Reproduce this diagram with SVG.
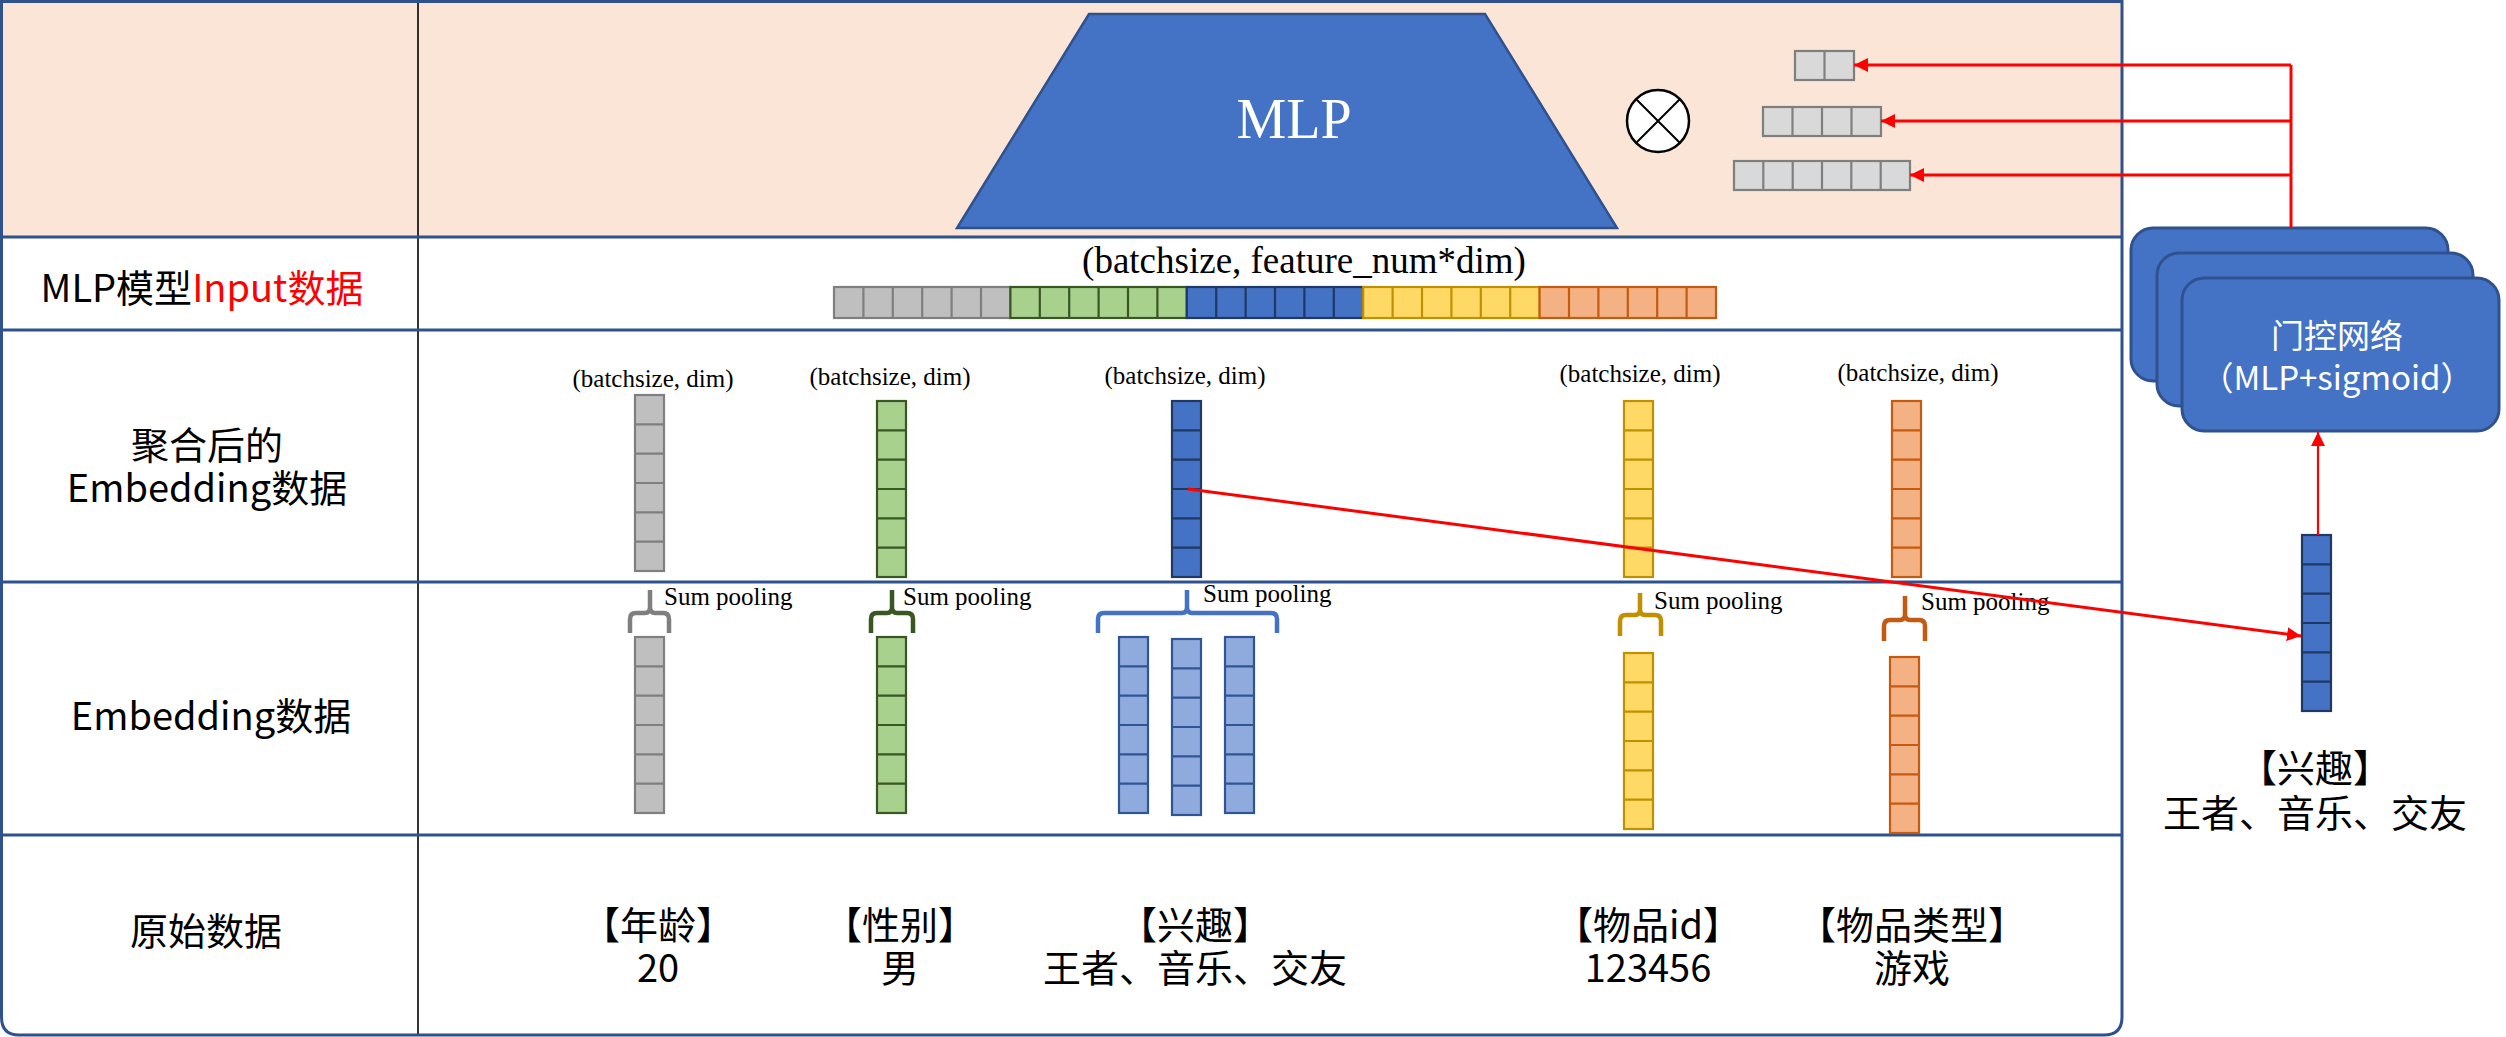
<svg xmlns="http://www.w3.org/2000/svg" xmlns:xlink="http://www.w3.org/1999/xlink" width="2506" height="1037" viewBox="0 0 2506 1037">
<style>
.zh{font-family:"Noto Sans CJK SC","Noto Sans",sans-serif;font-size:38px;fill:#000;text-anchor:middle}
.red{fill:#FF0000}
.ser{font-family:"Liberation Serif","Times New Roman",serif;fill:#000}
.lbl{font-size:25px;text-anchor:middle}
.sp{font-size:25px}
.row{stroke:#2F528F;stroke-width:3;fill:none}
.g{fill:#BFBFBF;stroke:#7F7F7F;stroke-width:2.2}
.gr{fill:#A9D18E;stroke:#385723;stroke-width:2.2}
.b{fill:#4472C4;stroke:#203864;stroke-width:2.2}
.y{fill:#FFD966;stroke:#BF9000;stroke-width:2.2}
.o{fill:#F4B183;stroke:#C55A11;stroke-width:2.2}
.lb{fill:#8FAADC;stroke:#2F5597;stroke-width:2.2}
.w{fill:#D9D9D9;stroke:#7F7F7F;stroke-width:2.2}
.brace{fill:none;stroke-width:4.5}
.gate{fill:#4472C4;stroke:#2F528F;stroke-width:3}
.gt{font-size:33px;fill:#FFFFFF}
.conn{fill:none;stroke:#FF0000;stroke-width:3}
</style>
<defs>
<marker id="ah" markerUnits="userSpaceOnUse" markerWidth="16" markerHeight="14" refX="14" refY="7" orient="auto">
<path d="M0,0 L14,7 L0,14 Z" fill="#FF0000"/>
</marker>
<g id="vcol"><rect x="0" y="0" width="29" height="176"/><path d="M0,29.33h29M0,58.67h29M0,88h29M0,117.33h29M0,146.67h29"/></g>
<g id="hseg"><rect x="0" y="0" width="176.4" height="31"/><path d="M29.4,0v31M58.8,0v31M88.2,0v31M117.6,0v31M147,0v31"/></g>
</defs>

<g id="table">
<rect x="1.5" y="1.5" width="2120.5" height="235.5" fill="#FBE5D6"/>
<line x1="418" y1="1.5" x2="418" y2="1035" stroke="#000" stroke-width="1.6"/>
<path class="row" d="M1.5,237H2122M1.5,330H2122M1.5,582H2122M1.5,835H2122"/>
<path class="row" d="M1.5,1.5H2122V1017Q2122,1035 2104,1035H19Q1.5,1035 1.5,1017Z"/>
</g>

<g id="row-labels">
<text class="zh" x="202" y="302">MLP模型<tspan class="red">Input数据</tspan></text>
<text class="zh" x="207" y="459">聚合后的<tspan x="207" dy="43">Embedding数据</tspan></text>
<text class="zh" x="211" y="730">Embedding数据</text>
<text class="zh" x="206" y="945">原始数据</text>
</g>

<g id="mlp">
<polygon points="1089,14 1485,14 1617,228 957,228" fill="#4472C4" stroke="#2F528F" stroke-width="2.5"/>
<text class="ser" x="1294" y="138" font-size="56" style="fill:#FFFFFF" text-anchor="middle">MLP</text>
</g>

<g id="otimes">
<circle cx="1658" cy="121" r="31" fill="#FFFFFF" stroke="#000" stroke-width="2.5"/>
<path d="M1636,99L1680,143M1680,99L1636,143" stroke="#000" stroke-width="2"/>
</g>

<g id="gate-weights">
<g id="w2"><rect class="w" x="1795" y="51" width="59" height="29"/><path class="w" d="M1824.5,51v29"/></g>
<g id="w4"><rect class="w" x="1763" y="107" width="118" height="29"/><path class="w" d="M1792.5,107v29M1822,107v29M1851.5,107v29"/></g>
<g id="w6"><rect class="w" x="1734" y="161" width="176" height="29"/><path class="w" d="M1763.3,161v29M1792.7,161v29M1822,161v29M1851.3,161v29M1880.7,161v29"/></g>
</g>

<g id="gate-network">
<rect class="gate" x="2131" y="228" width="317" height="153" rx="22"/>
<rect class="gate" x="2157" y="253" width="316" height="153" rx="22"/>
<rect class="gate" x="2182" y="278" width="317" height="153" rx="22"/>
<text class="zh gt" x="2337" y="348">门控网络<tspan x="2337" dy="42">（MLP+sigmoid）</tspan></text>
</g>

<g id="concat-input">
<text class="ser" x="1304" y="273" font-size="37" text-anchor="middle">(batchsize, feature_num*dim)</text>
<use xlink:href="#hseg" href="#hseg" x="834" y="287" class="g"/>
<use xlink:href="#hseg" href="#hseg" x="1010.4" y="287" class="gr"/>
<use xlink:href="#hseg" href="#hseg" x="1186.8" y="287" class="b"/>
<use xlink:href="#hseg" href="#hseg" x="1363.2" y="287" class="y"/>
<use xlink:href="#hseg" href="#hseg" x="1539.6" y="287" class="o"/>
</g>

<g id="agg-age">
<text class="ser lbl" x="653" y="387">(batchsize, dim)</text>
<use xlink:href="#vcol" href="#vcol" x="635" y="395" class="g"/>
</g>
<g id="agg-gender">
<text class="ser lbl" x="890" y="385">(batchsize, dim)</text>
<use xlink:href="#vcol" href="#vcol" x="877" y="401" class="gr"/>
</g>
<g id="agg-interest">
<text class="ser lbl" x="1185" y="384">(batchsize, dim)</text>
<use xlink:href="#vcol" href="#vcol" x="1172" y="401" class="b"/>
</g>
<g id="agg-itemid">
<text class="ser lbl" x="1640" y="382">(batchsize, dim)</text>
<use xlink:href="#vcol" href="#vcol" x="1624" y="401" class="y"/>
</g>
<g id="agg-itemtype">
<text class="ser lbl" x="1918" y="381">(batchsize, dim)</text>
<use xlink:href="#vcol" href="#vcol" x="1892" y="401" class="o"/>
</g>

<g id="emb-age">
<path class="brace" stroke="#7F7F7F" d="M630,633V619Q630,613 636,613H645Q650,613 650,607V590M669,633V619Q669,613 663,613H655Q650,613 650,607"/>
<text class="ser sp" x="664" y="605">Sum pooling</text>
<use xlink:href="#vcol" href="#vcol" x="635" y="637" class="g"/>
</g>
<g id="emb-gender">
<path class="brace" stroke="#385723" d="M871,633V619Q871,613 877,613H887Q892,613 892,607V590M913,633V619Q913,613 907,613H897Q892,613 892,607"/>
<text class="ser sp" x="903" y="605">Sum pooling</text>
<use xlink:href="#vcol" href="#vcol" x="877" y="637" class="gr"/>
</g>
<g id="emb-interest">
<path class="brace" stroke="#4472C4" d="M1098,633V619Q1098,613 1104,613H1182Q1187,613 1187,607V590M1277,633V619Q1277,613 1271,613H1192Q1187,613 1187,607"/>
<text class="ser sp" x="1203" y="602">Sum pooling</text>
<use xlink:href="#vcol" href="#vcol" x="1119" y="637" class="lb"/>
<use xlink:href="#vcol" href="#vcol" x="1172" y="639" class="lb"/>
<use xlink:href="#vcol" href="#vcol" x="1225" y="637" class="lb"/>
</g>
<g id="emb-itemid">
<path class="brace" stroke="#BF9000" d="M1620,636V621Q1620,615 1626,615H1635Q1640,615 1640,609V593M1661,636V621Q1661,615 1655,615H1645Q1640,615 1640,609"/>
<text class="ser sp" x="1654" y="609">Sum pooling</text>
<use xlink:href="#vcol" href="#vcol" x="1624" y="653" class="y"/>
</g>
<g id="emb-itemtype">
<path class="brace" stroke="#C55A11" d="M1884,641V626Q1884,620 1890,620H1900Q1905,620 1905,614V596M1925,641V626Q1925,620 1919,620H1910Q1905,620 1905,614"/>
<text class="ser sp" x="1921" y="610">Sum pooling</text>
<use xlink:href="#vcol" href="#vcol" x="1890" y="657" class="o"/>
</g>

<g id="raw-data">
<text class="zh" x="658" y="939">【年龄】<tspan x="658" dy="43">20</tspan></text>
<text class="zh" x="900" y="939">【性别】<tspan x="900" dy="43">男</tspan></text>
<text class="zh" x="1195" y="939">【兴趣】<tspan x="1195" dy="43">王者、音乐、交友</tspan></text>
<text class="zh" x="1648" y="939">【物品id】<tspan x="1648" dy="43">123456</tspan></text>
<text class="zh" x="1912" y="939">【物品类型】<tspan x="1912" dy="43">游戏</tspan></text>
</g>

<g id="interest-vector">
<use xlink:href="#vcol" href="#vcol" x="2302" y="535" class="b"/>
<text class="zh" x="2315" y="782">【兴趣】<tspan x="2315" dy="45">王者、音乐、交友</tspan></text>
</g>

<g id="connectors">
<path class="conn" d="M2291,228V65"/>
<path class="conn" d="M2291,65H1854" marker-end="url(#ah)"/>
<path class="conn" d="M2291,121H1881" marker-end="url(#ah)"/>
<path class="conn" d="M2291,175H1910" marker-end="url(#ah)"/>
<path class="conn" d="M1188,489L2301,636" marker-end="url(#ah)"/>
<path class="conn" style="stroke-width:2.2" d="M2318,535V432" marker-end="url(#ah)"/>
</g>
</svg>
